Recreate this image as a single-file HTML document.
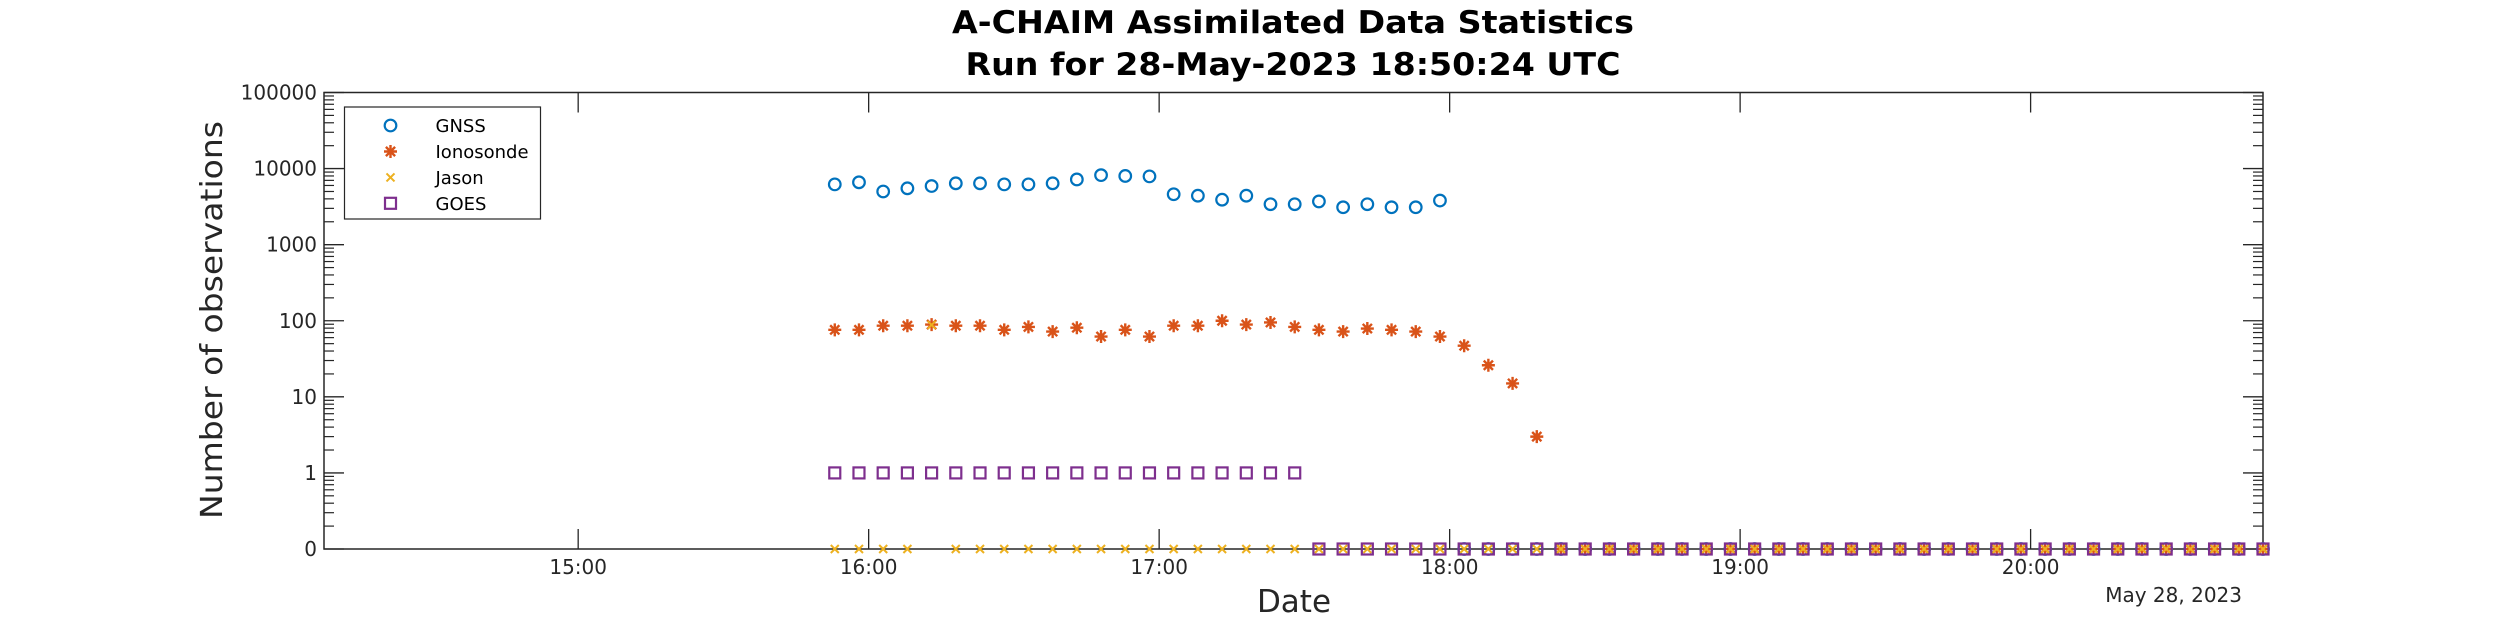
<!DOCTYPE html>
<html><head><meta charset="utf-8"><style>
html,body{margin:0;padding:0;background:#fff;}
svg{display:block;font-family:"DejaVu Sans","Liberation Sans",sans-serif;}
</style></head><body>
<svg id="chart" width="2500" height="625" viewBox="0 0 2500 625" xmlns="http://www.w3.org/2000/svg">
<rect width="2500" height="625" fill="#fff"/>
<text x="1293" y="33" text-anchor="middle" font-size="31" font-weight="bold" fill="#000" textLength="682" lengthAdjust="spacingAndGlyphs">A-CHAIM Assimilated Data Statistics</text>
<text x="1293" y="75" text-anchor="middle" font-size="31" font-weight="bold" fill="#000" textLength="655" lengthAdjust="spacingAndGlyphs">Run for 28-May-2023 18:50:24 UTC</text>
<g id="axes"></g>
<g id="marks"></g>
<text transform="translate(222,320) rotate(-90)" text-anchor="middle" font-size="30" fill="#262626" textLength="398" lengthAdjust="spacingAndGlyphs">Number of observations</text>
<text x="1294" y="612" text-anchor="middle" font-size="31" fill="#262626">Date</text>
<text x="2242" y="602" text-anchor="end" font-size="20" fill="#262626">May 28, 2023</text>
<g id="legend"></g>
</svg>
<script>
// ---- data ----
const startMinute = 15*60+53; // 15:53
const stepMinutes = 5;
const nPoints = 60;
const gnssValues = [6200,6600,5000,5500,5900,6400,6400,6200,6200,6400,7200,8200,8000,7900,4600,4400,3900,4400,3400,3400,3700,3100,3400,3100,3100,3800];
const ionoValues = [76,76,86,86,89,86,86,76,83,72,81,62,76,62,86,86,100,89,95,83,76,72,79,76,72,62,47,26,15,3];
const jasonValues = [0,0,0,0,88,0,0,0,0,0,0,0,0,0,0,0,0,0,0,0];
const goesValues = [1,1,1,1,1,1,1,1,1,1,1,1,1,1,1,1,1,1,1,1];
const xTickLabels = ["15:00","16:00","17:00","18:00","19:00","20:00"];
const xTickMinutes = [900,960,1020,1080,1140,1200];
const yTickLabels = ["0","1","10","100","1000","10000","100000"];
const yTickValues = [0,1,10,100,1000,10000,100000];

// pad series with zeros beyond listed values (series continue at 0 to end)
function full(arr, startZeroAt){ const o=[]; for(let i=0;i<nPoints;i++) o.push(i<arr.length?arr[i]:0); return o; }
const gnss = full(gnssValues), iono = full(ionoValues), jason = full(jasonValues), goes = full(goesValues);

// ---- axes ----
const L=324, R=2263, T=92.5, B=549;
const xMin=14*60+7.5, xMax=20*60+48;
function xs(m){ return L+(m-xMin)/(xMax-xMin)*(R-L); }
function ys(v){ const lv = v<=0 ? -1 : Math.log10(v); return B-(lv+1)/6*(B-T); }
const NS="http://www.w3.org/2000/svg";
function mk(tag,attrs,parent){ const e=document.createElementNS(NS,tag); for(const k in attrs) e.setAttribute(k,attrs[k]); parent.appendChild(e); return e; }
const ax=document.getElementById('axes');
const col="#262626";
const box=mk('rect',{x:L,y:T,width:R-L,height:B-T,fill:'none',stroke:col,'stroke-width':1.5},ax);


xTickMinutes.forEach((m,i)=>{
  const x=xs(m);
  const t1=mk('line',{x1:x,x2:x,y1:B,y2:B-20,stroke:col,'stroke-width':1.3},ax);
  
  
  const t2=mk('line',{x1:x,x2:x,y1:T,y2:T+20,stroke:col,'stroke-width':1.3},ax);
  
  
  const lb=mk('text',{x:x,y:574,'text-anchor':'middle','font-size':20,fill:col},ax);
  lb.textContent=xTickLabels[i];
  
  
});
yTickValues.forEach((v,i)=>{
  const y=ys(v);
  const a=mk('line',{x1:L,x2:L+20,y1:y,y2:y,stroke:col,'stroke-width':1.3},ax);
  
  
  const b=mk('line',{x1:R,x2:R-20,y1:y,y2:y,stroke:col,'stroke-width':1.3},ax);
  
  
  const lb=mk('text',{x:317,y:y+7,'text-anchor':'end','font-size':20,fill:col},ax);
  lb.textContent=yTickLabels[i];
  
  
});
for(let d=-1; d<5; d++){
  for(let k=2;k<=9;k++){
    const y=B-((d+Math.log10(k))+1)/6*(B-T);
    const a=mk('line',{x1:L,x2:L+10,y1:y,y2:y,stroke:col,'stroke-width':1.2},ax);
    
    
    const b=mk('line',{x1:R,x2:R-10,y1:y,y2:y,stroke:col,'stroke-width':1.2},ax);
    
    
  }
}

// ---- markers ----
const C_GNSS="#0072BD", C_IONO="#D95319", C_JASON="#EDB120", C_GOES="#7E2F8E";
function circle(x,y,p,name){ const e=mk('circle',{cx:x,cy:y,r:5.8,fill:'none',stroke:C_GNSS,'stroke-width':2.2},p);   }
function star(x,y,p,name){ const s=6.5,d=4.6; const e=mk('path',{d:`M${x-s},${y}H${x+s}M${x},${y-s}V${y+s}M${x-d},${y-d}L${x+d},${y+d}M${x-d},${y+d}L${x+d},${y-d}`,stroke:C_IONO,'stroke-width':2.4,fill:'none'},p);   }
function cross(x,y,p,name){ const d=4; const e=mk('path',{d:`M${x-d},${y-d}L${x+d},${y+d}M${x-d},${y+d}L${x+d},${y-d}`,stroke:C_JASON,'stroke-width':2,fill:'none'},p);   }
function square(x,y,p,name){ const e=mk('rect',{x:x-5.5,y:y-5.5,width:11,height:11,fill:'none',stroke:C_GOES,'stroke-width':2.2},p);   }
const mg=document.getElementById('marks');
for(let i=0;i<nPoints;i++){ const x=xs(startMinute+i*stepMinutes); circle(x,ys(gnss[i]),mg,'gnss-point'); }
for(let i=0;i<nPoints;i++){ const x=xs(startMinute+i*stepMinutes); star(x,ys(iono[i]),mg,'ionosonde-point'); }
for(let i=0;i<nPoints;i++){ const x=xs(startMinute+i*stepMinutes); cross(x,ys(jason[i]),mg,'jason-point'); }
for(let i=0;i<nPoints;i++){ const x=xs(startMinute+i*stepMinutes); square(x,ys(goes[i]),mg,'goes-point'); }

// ---- legend ----
const lg=document.getElementById('legend');
const lbox=mk('rect',{x:344.5,y:107,width:196,height:112,fill:'#fff',stroke:col,'stroke-width':1.2},lg);


const names=["GNSS","Ionosonde","Jason","GOES"], fns=[circle,star,cross,square], ly=[125.5,151.5,177.4,203.3];
names.forEach((n,i)=>{
  fns[i](390.5,ly[i],lg,'legend-marker-'+n.toLowerCase());
  const t=mk('text',{x:435.5,y:ly[i]+6.5,'font-size':18,fill:'#000'},lg);
  t.textContent=n;
  
  
});
</script>
</body></html>
